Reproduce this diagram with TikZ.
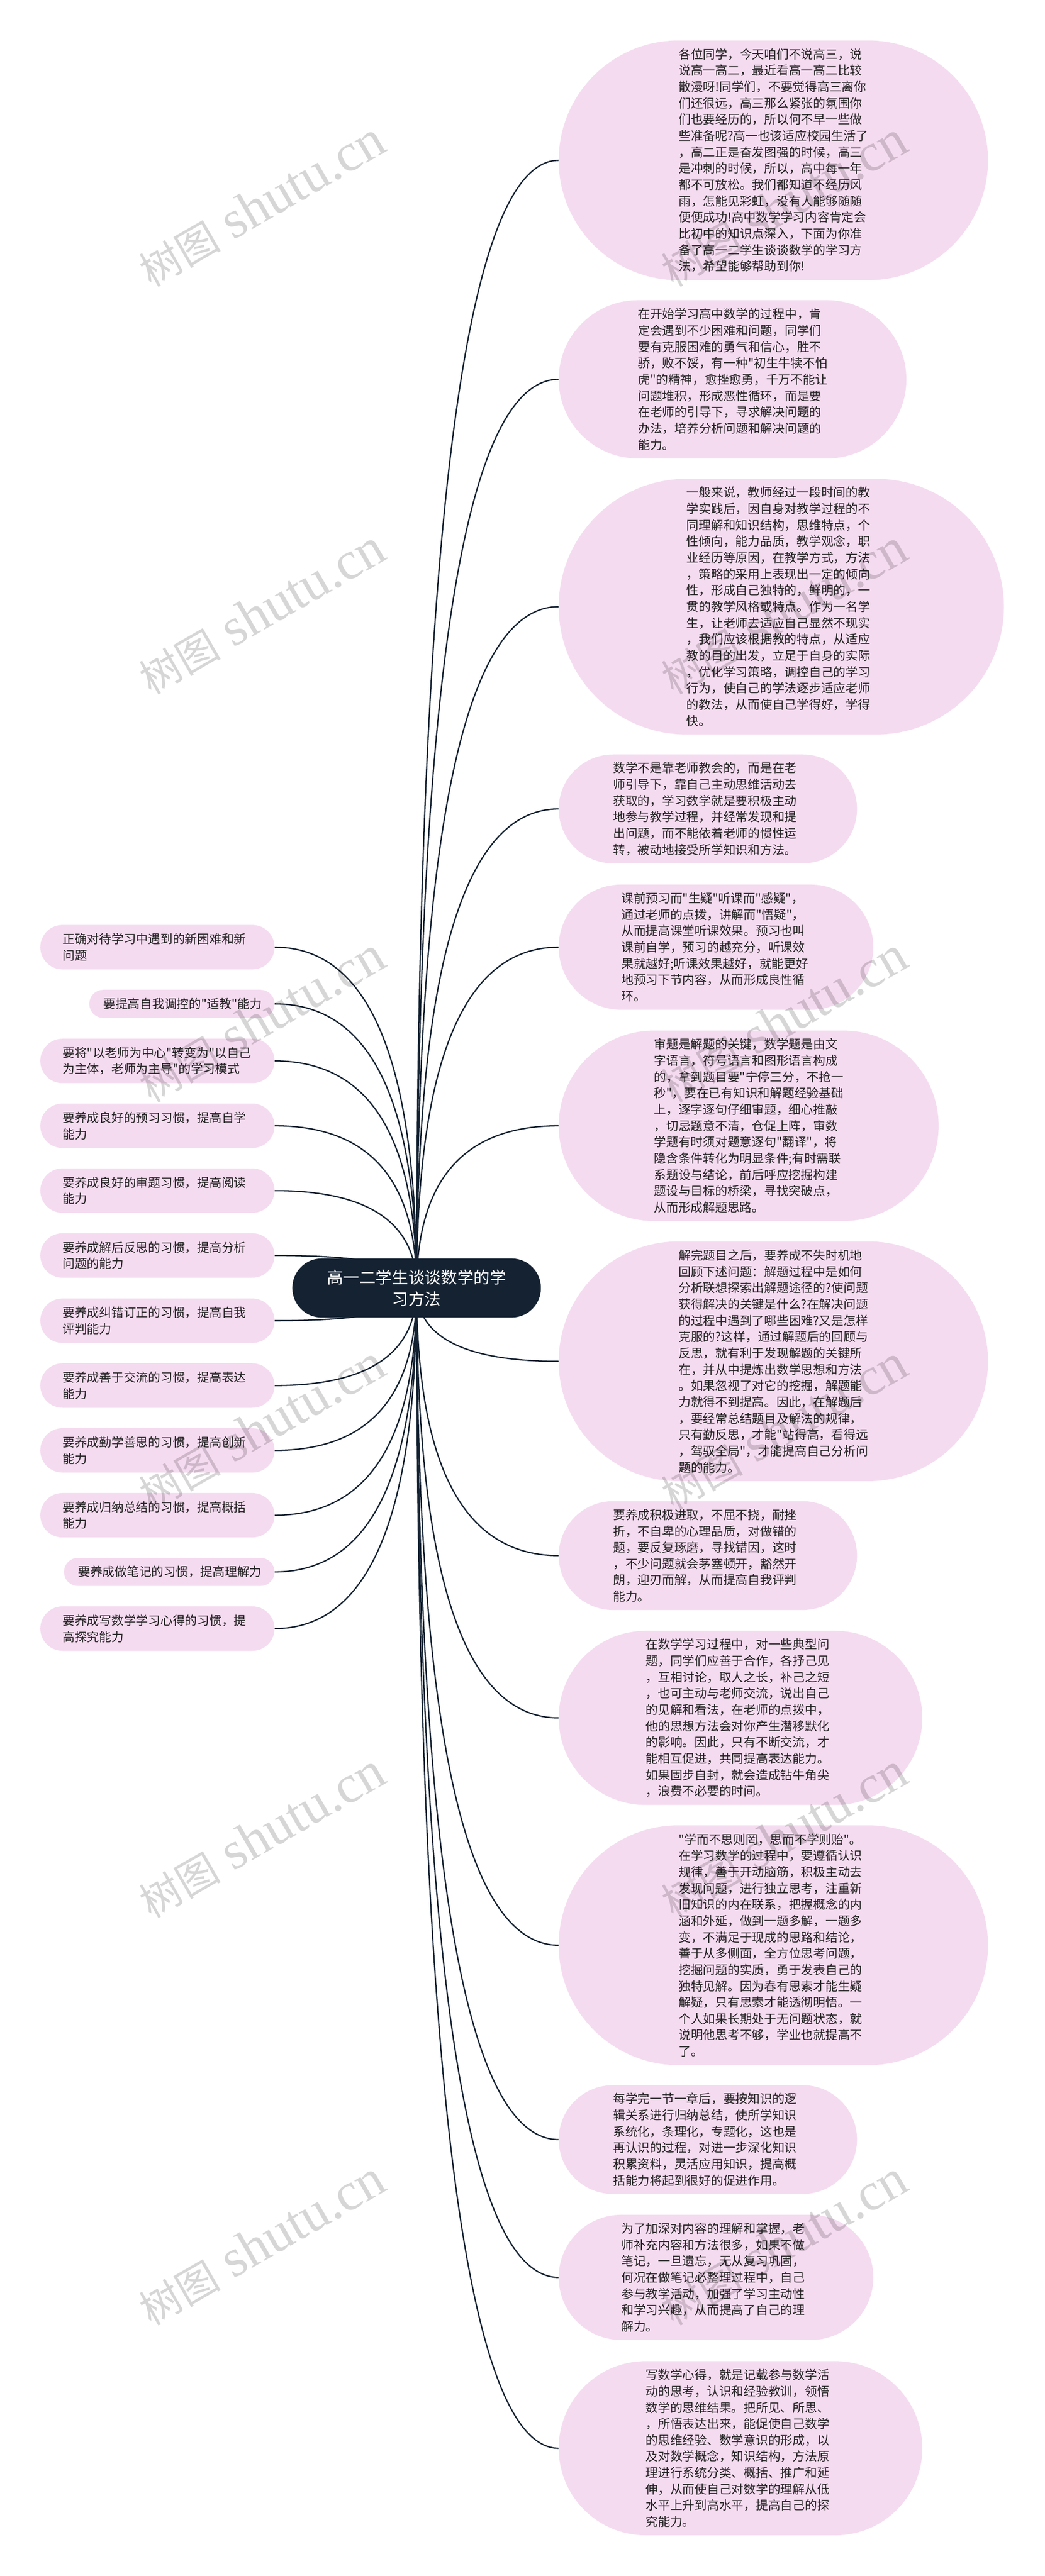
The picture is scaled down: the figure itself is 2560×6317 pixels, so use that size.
\documentclass[tikz,border=0pt]{standalone}
\usepackage{fontspec}
\setmainfont[Ligatures=TeXOff]{Noto Sans CJK SC}
\newfontfamily\wmfont{Liberation Serif}
\usetikzlibrary{calc,backgrounds}
\definecolor{pinkfill}{HTML}{F5DBF0}
\definecolor{navy}{HTML}{142232}
\definecolor{ink}{HTML}{222222}
\tikzset{
  pinkbox/.style={fill=pinkfill,text=ink,inner xsep=0pt,inner ysep=0pt,align=left,
    font=\fontsize{30}{40}\selectfont},
  rootbox/.style={fill=navy,text=white,inner sep=0pt,align=center,
    minimum width=609pt,minimum height=145pt,rounded corners=72pt,text width=500pt,
    font=\fontsize{40}{53}\selectfont},
  connector/.style={draw=navy,line width=3.2pt},
  watermark/.style={text=black,text opacity=0.16,rotate=30,inner sep=0pt,anchor=base,
    font=\fontsize{100}{100}\selectfont}
}
\newcommand{\linkto}[1]{%
  \draw[connector] (root.center) .. controls ($(root.center)!0.6667!(root.center|-#1)$)
    and ($(#1)!0.6667!(root.center|-#1)$) .. (#1);}
\newcommand{\wmtext}{树图\hspace{32pt}{\wmfont\fontsize{131}{131}\selectfont shutu.cn}}
\begin{document}
\begin{tikzpicture}[x=1pt,y=-1pt]
\useasboundingbox (0,0) rectangle (2560,6317);

\node[rootbox] (root) at (1021,3158.5) {高一二学生谈谈数学的学\\习方法};

% right column
\node[pinkbox,anchor=north west,minimum width=1052pt,minimum height=588pt,rounded corners=294pt,text width=464pt] (r1) at (1369,99) {各位同学，今天咱们不说高三，说\\说高一高二，最近看高一高二比较\\散漫呀!同学们，不要觉得高三离你\\们还很远，高三那么紧张的氛围你\\们也要经历的，所以何不早一些做\\些准备呢?高一也该适应校园生活了\\，高二正是奋发图强的时候，高三\\是冲刺的时候，所以，高中每一年\\都不可放松。我们都知道不经历风\\雨，怎能见彩虹，没有人能够随随\\便便成功!高中数学学习内容肯定会\\比初中的知识点深入，下面为你准\\备了高一二学生谈谈数学的学习方\\法，希望能够帮助到你!};
\node[pinkbox,anchor=north west,minimum width=852pt,minimum height=388pt,rounded corners=194pt,text width=464pt] (r2) at (1369,736) {在开始学习高中数学的过程中，肯\\定会遇到不少困难和问题，同学们\\要有克服困难的勇气和信心，胜不\\骄，败不馁，有一种"初生牛犊不怕\\虎"的精神，愈挫愈勇，千万不能让\\问题堆积，形成恶性循环，而是要\\在老师的引导下，寻求解决问题的\\办法，培养分析问题和解决问题的\\能力。};
\node[pinkbox,anchor=north west,minimum width=1091pt,minimum height=627pt,rounded corners=313.5pt,text width=464pt] (r3) at (1369,1174) {一般来说，教师经过一段时间的教\\学实践后，因自身对教学过程的不\\同理解和知识结构，思维特点，个\\性倾向，能力品质，教学观念，职\\业经历等原因，在教学方式，方法\\，策略的采用上表现出一定的倾向\\性，形成自己独特的，鲜明的，一\\贯的教学风格或特点。作为一名学\\生，让老师去适应自己显然不现实\\，我们应该根据教的特点，从适应\\教的目的出发，立足于自身的实际\\，优化学习策略，调控自己的学习\\行为，使自己的学法逐步适应老师\\的教法，从而使自己学得好，学得\\快。};
\node[pinkbox,anchor=north west,minimum width=731pt,minimum height=267pt,rounded corners=133.5pt,text width=464pt] (r4) at (1369,1850) {数学不是靠老师教会的，而是在老\\师引导下，靠自己主动思维活动去\\获取的，学习数学就是要积极主动\\地参与教学过程，并经常发现和提\\出问题，而不能依着老师的惯性运\\转，被动地接受所学知识和方法。};
\node[pinkbox,anchor=north west,minimum width=771pt,minimum height=307pt,rounded corners=153.5pt,text width=464pt] (r5) at (1369,2169) {课前预习而"生疑"听课而"感疑"，\\通过老师的点拨，讲解而"悟疑"，\\从而提高课堂听课效果。预习也叫\\课前自学，预习的越充分，听课效\\果就越好;听课效果越好，就能更好\\地预习下节内容，从而形成良性循\\环。};
\node[pinkbox,anchor=north west,minimum width=931pt,minimum height=467pt,rounded corners=233.5pt,text width=464pt] (r6) at (1369,2527) {审题是解题的关键，数学题是由文\\字语言，符号语言和图形语言构成\\的，拿到题目要"宁停三分，不抢一\\秒"，要在已有知识和解题经验基础\\上，逐字逐句仔细审题，细心推敲\\，切忌题意不清，仓促上阵，审数\\学题有时须对题意逐句"翻译"，将\\隐含条件转化为明显条件;有时需联\\系题设与结论，前后呼应挖掘构建\\题设与目标的桥梁，寻找突破点，\\从而形成解题思路。};
\node[pinkbox,anchor=north west,minimum width=1052pt,minimum height=588pt,rounded corners=294pt,text width=464pt] (r7) at (1369,3044) {解完题目之后，要养成不失时机地\\回顾下述问题：解题过程中是如何\\分析联想探索出解题途径的?使问题\\获得解决的关键是什么?在解决问题\\的过程中遇到了哪些困难?又是怎样\\克服的?这样，通过解题后的回顾与\\反思，就有利于发现解题的关键所\\在，并从中提炼出数学思想和方法\\。如果忽视了对它的挖掘，解题能\\力就得不到提高。因此，在解题后\\，要经常总结题目及解法的规律，\\只有勤反思，才能"站得高，看得远\\，驾驭全局"，才能提高自己分析问\\题的能力。};
\node[pinkbox,anchor=north west,minimum width=731pt,minimum height=267pt,rounded corners=133.5pt,text width=464pt] (r8) at (1369,3681) {要养成积极进取，不屈不挠，耐挫\\折，不自卑的心理品质，对做错的\\题，要反复琢磨，寻找错因，这时\\，不少问题就会茅塞顿开，豁然开\\朗，迎刃而解，从而提高自我评判\\能力。};
\node[pinkbox,anchor=north west,minimum width=891pt,minimum height=427pt,rounded corners=213.5pt,text width=464pt] (r9) at (1369,3999) {在数学学习过程中，对一些典型问\\题，同学们应善于合作，各抒己见\\，互相讨论，取人之长，补己之短\\，也可主动与老师交流，说出自己\\的见解和看法，在老师的点拨中，\\他的思想方法会对你产生潜移默化\\的影响。因此，只有不断交流，才\\能相互促进，共同提高表达能力。\\如果固步自封，就会造成钻牛角尖\\，浪费不必要的时间。};
\node[pinkbox,anchor=north west,minimum width=1052pt,minimum height=588pt,rounded corners=294pt,text width=464pt] (r10) at (1369,4476) {"学而不思则罔，思而不学则贻"。\\在学习数学的过程中，要遵循认识\\规律，善于开动脑筋，积极主动去\\发现问题，进行独立思考，注重新\\旧知识的内在联系，把握概念的内\\涵和外延，做到一题多解，一题多\\变，不满足于现成的思路和结论，\\善于从多侧面，全方位思考问题，\\挖掘问题的实质，勇于发表自己的\\独特见解。因为春有思索才能生疑\\解疑，只有思索才能透彻明悟。一\\个人如果长期处于无问题状态，就\\说明他思考不够，学业也就提高不\\了。};
\node[pinkbox,anchor=north west,minimum width=731pt,minimum height=267pt,rounded corners=133.5pt,text width=464pt] (r11) at (1369,5113) {每学完一节一章后，要按知识的逻\\辑关系进行归纳总结，使所学知识\\系统化，条理化，专题化，这也是\\再认识的过程，对进一步深化知识\\积累资料，灵活应用知识，提高概\\括能力将起到很好的促进作用。};
\node[pinkbox,anchor=north west,minimum width=771pt,minimum height=307pt,rounded corners=153.5pt,text width=464pt] (r12) at (1369,5431) {为了加深对内容的理解和掌握，老\\师补充内容和方法很多，如果不做\\笔记，一旦遗忘，无从复习巩固，\\何况在做笔记必整理过程中，自己\\参与教学活动，加强了学习主动性\\和学习兴趣，从而提高了自己的理\\解力。};
\node[pinkbox,anchor=north west,minimum width=891pt,minimum height=427pt,rounded corners=213.5pt,text width=464pt] (r13) at (1369,5790) {写数学心得，就是记载参与数学活\\动的思考，认识和经验教训，领悟\\数学的思维结果。把所见、所思、\\，所悟表达出来，能促使自己数学\\的思维经验、数学意识的形成，以\\及对数学概念，知识结构，方法原\\理进行系统分类、概括、推广和延\\伸，从而使自己对数学的理解从低\\水平上升到高水平，提高自己的探\\究能力。};

% left column
\node[pinkbox,anchor=north east,minimum width=574pt,minimum height=109pt,rounded corners=54.5pt,text width=465pt] (l1) at (673,2268) {正确对待学习中遇到的新困难和新\\问题};
\node[pinkbox,anchor=north east,minimum width=454pt,minimum height=69pt,rounded corners=34.5pt,text width=385pt] (l2) at (673,2427) {要提高自我调控的"适教"能力};
\node[pinkbox,anchor=north east,minimum width=574pt,minimum height=109pt,rounded corners=54.5pt,text width=465pt] (l3) at (673,2547) {要将"以老师为中心"转变为"以自己\\为主体，老师为主导"的学习模式};
\node[pinkbox,anchor=north east,minimum width=574pt,minimum height=109pt,rounded corners=54.5pt,text width=465pt] (l4) at (673,2706) {要养成良好的预习习惯，提高自学\\能力};
\node[pinkbox,anchor=north east,minimum width=574pt,minimum height=109pt,rounded corners=54.5pt,text width=465pt] (l5) at (673,2865) {要养成良好的审题习惯，提高阅读\\能力};
\node[pinkbox,anchor=north east,minimum width=574pt,minimum height=109pt,rounded corners=54.5pt,text width=465pt] (l6) at (673,3024) {要养成解后反思的习惯，提高分析\\问题的能力};
\node[pinkbox,anchor=north east,minimum width=574pt,minimum height=109pt,rounded corners=54.5pt,text width=465pt] (l7) at (673,3184) {要养成纠错订正的习惯，提高自我\\评判能力};
\node[pinkbox,anchor=north east,minimum width=574pt,minimum height=109pt,rounded corners=54.5pt,text width=465pt] (l8) at (673,3343) {要养成善于交流的习惯，提高表达\\能力};
\node[pinkbox,anchor=north east,minimum width=574pt,minimum height=109pt,rounded corners=54.5pt,text width=465pt] (l9) at (673,3502) {要养成勤学善思的习惯，提高创新\\能力};
\node[pinkbox,anchor=north east,minimum width=574pt,minimum height=109pt,rounded corners=54.5pt,text width=465pt] (l10) at (673,3661) {要养成归纳总结的习惯，提高概括\\能力};
\node[pinkbox,anchor=north east,minimum width=516pt,minimum height=69pt,rounded corners=34.5pt,text width=447pt] (l11) at (673,3820) {要养成做笔记的习惯，提高理解力};
\node[pinkbox,anchor=north east,minimum width=574pt,minimum height=109pt,rounded corners=54.5pt,text width=465pt] (l12) at (673,3939) {要养成写数学学习心得的习惯，提\\高探究能力};

% connectors
\begin{scope}[on background layer]
\fill[white] (0,0) rectangle (2560,6317);
\foreach \k in {1,...,13}{\linkto{r\k.west}}
\foreach \k in {1,...,12}{\linkto{l\k.east}}
\end{scope}

% watermark tiles
\foreach \k in {0,...,5}{
  \node[watermark] (wl\k) at (662,537+1000*\k) {\wmtext};
  \node[watermark] (wr\k) at (1942,537+1000*\k) {\wmtext};
}
\end{tikzpicture}
\end{document}
